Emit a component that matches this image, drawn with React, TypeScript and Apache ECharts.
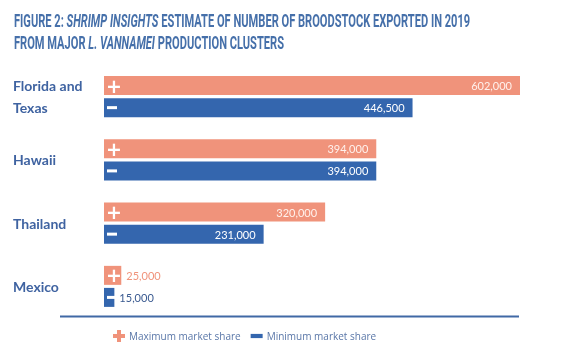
import React, { useEffect, useRef } from "react";
import * as echarts from "echarts";

const categories = ["Florida and\nTexas", "Hawaii", "Thailand", "Mexico"];
const maxValues = [602000, 394000, 320000, 25000];
const minValues = [446500, 394000, 231000, 15000];
const seriesNames = ["Maximum market share", "Minimum market share"];

const PINK = "#f0937b";
const BLUE = "#3466ae";
const TITLE = "#4670aa";
const LABEL = "#3f63a1";

const fmt = (v: number) => v.toLocaleString("en-US");

export default function App() {
  const ref = useRef<HTMLDivElement>(null);
  useEffect(() => {
    if (!ref.current) return;
    const chart = echarts.init(ref.current, undefined, { renderer: "svg" });
    const titleFont = "Roboto";
    const valueLabel = {
      show: true,
      position: "insideRight",
      distance: 8,
      color: "#ffffff",
      fontFamily: "Lato",
      fontSize: 11,
      formatter: (p: any) => fmt(p.value),
    };
    const barCommon = { type: "bar", barWidth: 19, barGap: "16%" };
    chart.setOption({
      animation: false,
      legend: {
        left: 108,
        top: 325,
        itemWidth: 12,
        itemHeight: 12,
        itemGap: 10,
        textStyle: { fontFamily: "'Open Sans'", fontSize: 10, color: "#5a77a8", padding: [0, 0, 0, -1] },
        data: [
          { name: seriesNames[0], icon: "path://M4,0H8V4H12V8H8V12H4V8H0V4H4Z", itemStyle: { color: PINK } },
          { name: seriesNames[1], icon: "path://M0,0H10V3.5H0Z", itemStyle: { color: BLUE } },
        ],
      },
      grid: { left: 104, top: 65, width: 416, height: 253 },
      xAxis: { type: "value", min: 0, max: 602000, show: false },
      yAxis: [
        {
          type: "category",
          inverse: true,
          data: categories,
          axisLine: { show: false },
          axisTick: { show: false },
          axisLabel: {
            margin: 91,
            align: "left",
            fontFamily: "Lato",
            fontWeight: "bold",
            fontSize: 14,
            color: LABEL,
            lineHeight: 22,
          },
        },
        { type: "category", inverse: true, data: categories, show: false },
      ],
      series: [
        {
          ...barCommon,
          name: seriesNames[0],
          yAxisIndex: 0,
          itemStyle: { color: PINK },
          label: { ...valueLabel, color: "#fff1ec" },
          data: maxValues.map((v, i) =>
            i === 3 ? { value: v, label: { position: "right", distance: 5, color: PINK } } : v
          ),
        },
        {
          ...barCommon,
          name: seriesNames[1],
          yAxisIndex: 0,
          itemStyle: { color: BLUE },
          label: valueLabel,
          data: minValues.map((v, i) =>
            i === 3 ? { value: v, label: { position: "right", distance: 5, color: "#3a5a90" } } : v
          ),
        },
        {
          ...barCommon,
          name: "plus",
          yAxisIndex: 1,
          silent: true,
          itemStyle: { color: "rgba(0,0,0,0)" },
          label: {
            show: true,
            position: "insideLeft",
            distance: 2,
            formatter: "{p|+}",
            rich: { p: { color: "#fff", fontSize: 19, fontWeight: "bold", fontFamily: "DejaVu Sans" } },
          },
          data: maxValues,
        },
        {
          ...barCommon,
          name: "minus",
          yAxisIndex: 1,
          silent: true,
          itemStyle: { color: "rgba(0,0,0,0)" },
          label: {
            show: true,
            position: "insideLeft",
            distance: 3,
            formatter: "{m|}",
            rich: { m: { width: 10, height: 3, backgroundColor: "#fff" } },
          },
          data: minValues,
        },
      ],
      graphic: [
        {
          type: "text",
          x: 14,
          y: 10,
          scaleX: 0.617,
          style: {
            text:
              "{b|FIGURE 2: }{i|SHRIMP INSIGHTS}{b| ESTIMATE OF NUMBER OF BROODSTOCK EXPORTED IN 2019}\n{b|FROM MAJOR }{i|L. VANNAMEI}{b| PRODUCTION CLUSTERS}",
            rich: {
              b: { fontFamily: titleFont, fontWeight: "bold", fontSize: 18, fill: TITLE, lineHeight: 22 },
              i: { fontFamily: titleFont, fontWeight: "bold", fontStyle: "italic", fontSize: 18, fill: TITLE, lineHeight: 22 },
            },
          },
        },
        {
          type: "line",
          shape: { x1: 60, y1: 316.5, x2: 519, y2: 316.5 },
          style: { stroke: "#4069a5", lineWidth: 2 },
        },
      ],
    });
    return () => chart.dispose();
  }, []);
  return <div ref={ref} style={{ position: "fixed", left: 0, top: 0, width: 571, height: 354 }} />;
}
